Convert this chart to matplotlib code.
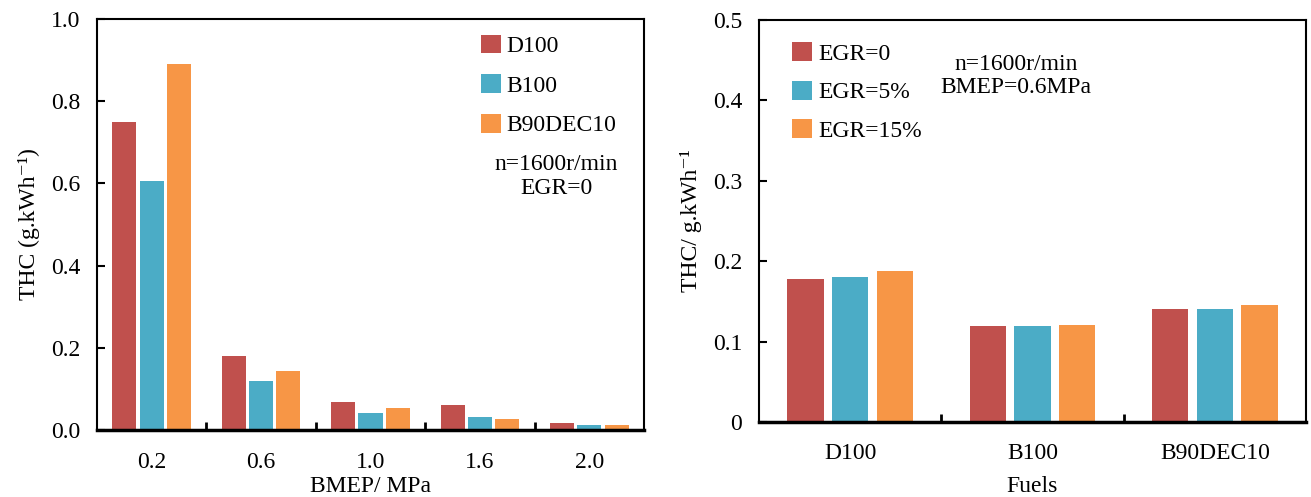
import matplotlib
matplotlib.use("Agg")
import matplotlib.pyplot as plt
import numpy as np

plt.rcParams['font.family'] = ['Liberation Serif', 'DejaVu Serif']

# Left panel data
bmep_labels = ["0.2", "0.6", "1.0", "1.6", "2.0"]
fuels_left = ["D100", "B100", "B90DEC10"]
d100 = [0.75, 0.18, 0.068, 0.060, 0.016]
b100 = [0.605, 0.120, 0.042, 0.032, 0.012]
b90dec10 = [0.89, 0.143, 0.054, 0.027, 0.012]

# Right panel data
fuel_labels = ["D100", "B100", "B90DEC10"]
egr_labels = ["EGR=0", "EGR=5%", "EGR=15%"]
egr0 = [0.178, 0.119, 0.140]
egr5 = [0.180, 0.119, 0.140]
egr15 = [0.188, 0.121, 0.145]

colors = ["#C0504D", "#4BACC6", "#F79646"]

W, H = 1311, 497
fig = plt.figure(figsize=(W / 100, H / 100), dpi=100)
ax1 = fig.add_axes([97 / W, 1 - 430 / H, (644 - 97) / W, (430 - 19) / H])
ax2 = fig.add_axes([759 / W, 1 - 422 / H, (1306 - 759) / W, (422 - 20) / H])

fs = 17
w = 0.22
step = 0.25
offs = [-step, 0, step]

x = np.arange(len(bmep_labels))
for i, (vals, lab) in enumerate(zip([d100, b100, b90dec10], fuels_left)):
    ax1.bar(x + offs[i], vals, width=w, color=colors[i], label=lab)
ax1.set_xlim(-0.5, len(bmep_labels) - 0.5)
ax1.set_ylim(0, 1.0)
yt1 = np.arange(0, 1.01, 0.2)
ax1.set_yticks(yt1)
ax1.set_yticklabels([f"{v:.1f}" for v in yt1])
ax1.set_xticks(x)
ax1.set_xticklabels(bmep_labels)
ax1.set_xticks(x[:-1] + 0.5, minor=True)
ax1.tick_params(axis='x', which='major', length=0, labelsize=fs, pad=16)
ax1.tick_params(axis='x', which='minor', direction='in', length=6, width=2)
ax1.tick_params(axis='y', direction='in', length=6, width=1.5, labelsize=fs, pad=12)
ax1.set_xlabel("BMEP/ MPa", fontsize=fs, labelpad=2)
ax1.set_ylabel("THC (g.kWh\u207b\u00b9)", fontsize=fs, labelpad=8)
for s in ax1.spines.values():
    s.set_linewidth(1.5)
ax1.spines['bottom'].set_linewidth(2.5)
ax1.legend(loc='upper right', fontsize=fs, frameon=False, handlelength=0.85,
           handleheight=0.85, labelspacing=0.72, handletextpad=0.25,
           borderpad=0, borderaxespad=0, bbox_to_anchor=(0.95, 0.962))
ax1.text(0.84, 0.617, "n=1600r/min\nEGR=0", transform=ax1.transAxes, fontsize=fs,
         ha='center', va='center', linespacing=1.15)

x2 = np.arange(len(fuel_labels))
w2 = 0.2
step2 = 0.245
offs2 = [-step2, 0, step2]
for i, (vals, lab) in enumerate(zip([egr0, egr5, egr15], egr_labels)):
    ax2.bar(x2 + offs2[i], vals, width=w2, color=colors[i], label=lab)
ax2.set_xlim(-0.5, len(fuel_labels) - 0.5)
ax2.set_ylim(0, 0.5)
ax2.set_yticks([0, 0.1, 0.2, 0.3, 0.4, 0.5])
ax2.set_yticklabels(["0", "0.1", "0.2", "0.3", "0.4", "0.5"])
ax2.set_xticks(x2)
ax2.set_xticklabels(fuel_labels)
ax2.set_xticks(x2[:-1] + 0.5, minor=True)
ax2.tick_params(axis='x', which='major', length=0, labelsize=fs, pad=15)
ax2.tick_params(axis='x', which='minor', direction='in', length=6, width=2)
ax2.tick_params(axis='y', direction='in', length=6, width=1.5, labelsize=fs, pad=12)
ax2.set_xlabel("Fuels", fontsize=fs, labelpad=9)
ax2.set_ylabel("THC/ g.kWh\u207b\u00b9", fontsize=fs, labelpad=8)
for s in ax2.spines.values():
    s.set_linewidth(1.5)
ax2.spines['bottom'].set_linewidth(2.5)
ax2.legend(loc='upper left', fontsize=fs, frameon=False, handlelength=0.85,
           handleheight=0.85, labelspacing=0.68, handletextpad=0.25,
           borderpad=0, borderaxespad=0, bbox_to_anchor=(0.061, 0.945))
ax2.text(0.47, 0.861, "n=1600r/min\nBMEP=0.6MPa", transform=ax2.transAxes, fontsize=fs,
         ha='center', va='center', linespacing=1.15)

fig.savefig("out.png", dpi=100)
